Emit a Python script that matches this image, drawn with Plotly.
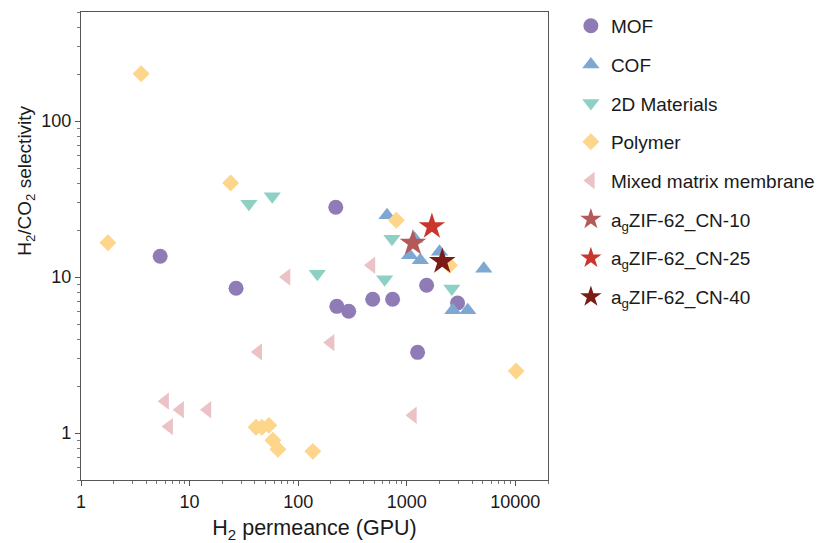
import plotly.graph_objects as go

# ---- data ----
mof_x = [5.36, 26.8, 222, 227, 292, 486, 741, 1524, 1259, 2938]
mof_y = [13.6, 8.47, 28.0, 6.49, 6.03, 7.2, 7.2, 8.85, 3.29, 6.81]

cof_x = [658, 1183, 1063, 1334, 2005, 5125, 2660, 3650]
cof_y = [24.9, 17.6, 13.8, 12.8, 14.5, 11.3, 6.12, 6.12]

mat2d_x = [35.2, 57.7, 150, 731, 626, 2602]
mat2d_y = [29.5, 33.0, 10.5, 17.6, 9.67, 8.43]

poly_x = [3.58, 23.9, 1.77, 802, 2477, 10170, 40.9, 46.4, 53.8, 58.5, 65.1, 136.5]
poly_y = [201, 40.1, 16.6, 23.1, 11.9, 2.5, 1.09, 1.09, 1.12, 0.90, 0.787, 0.763]

mmm_x = [78.2, 42.9, 5.95, 8.18, 14.6, 6.48, 473, 199, 1141]
mmm_y = [10.0, 3.31, 1.60, 1.41, 1.41, 1.10, 11.9, 3.80, 1.30]

cn10_x, cn10_y = [1141], [16.5]
cn25_x, cn25_y = [1705], [21.1]
cn40_x, cn40_y = [2125], [12.6]

x_ticks = [1, 10, 100, 1000, 10000]
y_ticks = [1, 10, 100]

series = [
    ("MOF", mof_x, mof_y, "circle", "#8f7bb5", 15),
    ("COF", cof_x, cof_y, "triangle-up", "#7ea8d2", 15),
    ("2D Materials", mat2d_x, mat2d_y, "triangle-down", "#8fd0c5", 15),
    ("Polymer", poly_x, poly_y, "diamond", "#fdd58b", 13),
    ("Mixed matrix membrane", mmm_x, mmm_y, "triangle-left", "#ebc2c6", 15),
    ("a<sub>g</sub>ZIF-62_CN-10", cn10_x, cn10_y, "star", "#b35a59", 20),
    ("a<sub>g</sub>ZIF-62_CN-25", cn25_x, cn25_y, "star", "#c9372c", 20),
    ("a<sub>g</sub>ZIF-62_CN-40", cn40_x, cn40_y, "star", "#7b1b16", 20),
]

fig = go.Figure()
for i, (name, xs, ys, sym, col, sz) in enumerate(series):
    fig.add_trace(go.Scatter(
        x=xs, y=ys, mode="markers", name=name, legendgroup=f"g{i}",
        marker=dict(symbol=sym, color=col, size=sz, line=dict(width=0)),
    ))

def minor_vals(decades):
    return [k * 10.0 ** d for d in decades for k in range(2, 10)]

axis_common = dict(
    type="log", showline=True, linecolor="#555555", linewidth=1.2, mirror=True,
    ticks="outside", ticklen=5, tickcolor="#555555", showgrid=False, zeroline=False,
    tickfont=dict(size=18, color="#1a1a1a"),
)

fig.update_xaxes(
    **axis_common, range=[0, 4.301], tickvals=x_ticks,
    ticktext=[str(v) for v in x_ticks],
    minor=dict(ticks="outside", ticklen=3, tickcolor="#777777", showgrid=False,
               tickmode="array", tickvals=minor_vals(range(0, 5))),
    title=dict(text="H<sub>2</sub> permeance (GPU)", font=dict(size=21.5, color="#1a1a1a"), standoff=10),
)
fig.update_yaxes(
    **axis_common, range=[-0.301, 2.699], tickvals=y_ticks,
    ticktext=[str(v) for v in y_ticks],
    minor=dict(ticks="outside", ticklen=3, tickcolor="#777777", showgrid=False,
               tickmode="array", tickvals=minor_vals(range(-1, 3))),
)

# y-axis title (placed above the plot's vertical centre, as in the reference)
fig.add_annotation(
    text="H<sub>2</sub>/CO<sub>2</sub> selectivity", textangle=-90,
    xref="paper", yref="paper", x=-0.118, y=0.639, xanchor="center", yanchor="middle",
    showarrow=False, font=dict(size=19, color="#1a1a1a"),
)

fig.update_layout(
    width=815, height=535,
    margin=dict(l=73, r=275, t=4, b=63, autoexpand=False),
    paper_bgcolor="white", plot_bgcolor="white",
    font=dict(family="Liberation Sans, Arial, sans-serif", color="#1a1a1a"),
    legend=dict(x=1.049, y=1.011, xanchor="left", yanchor="top",
                font=dict(size=19, color="#1a1a1a"), tracegroupgap=11,
                itemsizing="trace", bgcolor="rgba(0,0,0,0)", maxheight=600),
)

fig.write_html("out.html")
